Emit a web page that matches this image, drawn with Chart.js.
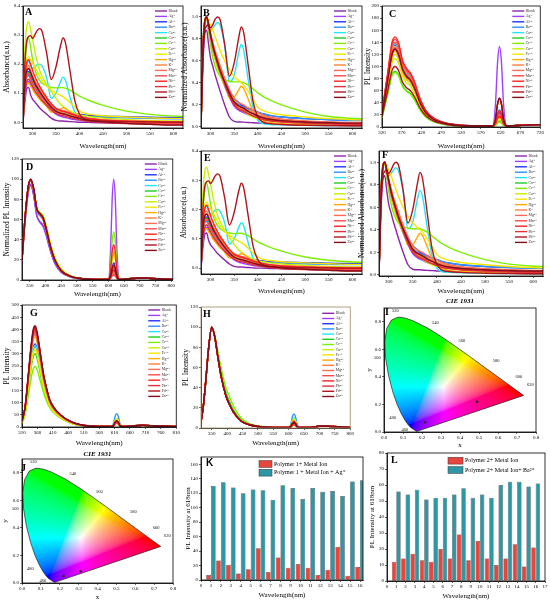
<!DOCTYPE html>
<html><head><meta charset="utf-8">
<script src="https://cdn.jsdelivr.net/npm/chart.js@4.4.1/dist/chart.umd.min.js"></script>
<style>
html,body{margin:0;padding:0;background:#fff;}
#wrap{position:relative;width:550px;height:603px;overflow:hidden;background:#fff;}
canvas{position:absolute;}
</style></head><body><div id="wrap"></div>
<script>
// ---------------- DATA ----------------
const ions = ['Blank','Ag⁺','Al³⁺','Ba²⁺','Ca²⁺','Co²⁺','Cr³⁺','Cu²⁺','Fe³⁺','Hg²⁺','K⁺','Mg²⁺','Mn²⁺','Ni²⁺','Pb²⁺','Pd²⁺','Zn²⁺'];
const ionColors = ['#8E24AA','#A040FF','#2233FF','#2F8FFF','#22E5F5','#1ED01E','#7CF000','#C6F000','#F2E600','#FFAA00','#FF7F3F','#FF6A55','#FF4848','#FF2020','#E0303A','#B0141E','#82101A'];

// Absorbance (panels A and E)
const absX = [280,284,288,292,296,300,305,310,315,320,330,340,350,360,365,370,380,390,400,410,425,450,500,550,600,620];
const absRows = [
 [0,0.07,0.115,0.12,0.095,0.08,0.07,0.06,0.05,0.042,0.028,0.014,0.006,0.004,0.004,0.003,0.002,0.001,0,0,-0.001,-0.002,-0.004,-0.005,-0.006,-0.006],
 [0,0.09,0.13,0.14,0.13,0.12,0.105,0.095,0.085,0.075,0.058,0.042,0.028,0.02,0.018,0.016,0.012,0.009,0.007,0.005,0.003,0.001,-0.002,-0.004,-0.006,-0.006],
 [0,0.12,0.17,0.175,0.16,0.145,0.13,0.118,0.105,0.095,0.075,0.058,0.045,0.038,0.036,0.034,0.031,0.029,0.027,0.025,0.023,0.021,0.019,0.017,0.016,0.016],
 [0,0.11,0.155,0.16,0.148,0.135,0.12,0.108,0.095,0.085,0.067,0.05,0.038,0.032,0.03,0.029,0.026,0.024,0.022,0.021,0.019,0.017,0.015,0.013,0.012,0.012],
 [0,0.14,0.2,0.21,0.195,0.185,0.19,0.197,0.2,0.195,0.155,0.082,0.1,0.14,0.155,0.145,0.085,0.035,0.012,0.006,0.004,0.003,0.001,0,-0.001,-0.001],
 [0,0.12,0.165,0.17,0.155,0.14,0.123,0.11,0.098,0.088,0.068,0.05,0.036,0.03,0.028,0.026,0.022,0.019,0.016,0.013,0.01,0.007,0.004,0.002,0.001,0.001],
 [0,0.19,0.27,0.29,0.26,0.22,0.185,0.16,0.145,0.135,0.125,0.12,0.118,0.119,0.119,0.117,0.11,0.1,0.09,0.082,0.072,0.058,0.038,0.027,0.021,0.02],
 [0,0.25,0.33,0.345,0.32,0.29,0.245,0.21,0.18,0.16,0.13,0.105,0.082,0.062,0.055,0.048,0.038,0.031,0.026,0.022,0.018,0.014,0.009,0.006,0.004,0.004],
 [0,0.16,0.22,0.225,0.215,0.205,0.19,0.175,0.16,0.145,0.125,0.112,0.1,0.092,0.088,0.082,0.068,0.052,0.038,0.031,0.026,0.022,0.018,0.015,0.013,0.013],
 [0,0.1,0.135,0.135,0.125,0.115,0.1,0.09,0.08,0.07,0.055,0.035,0.035,0.045,0.05,0.047,0.035,0.02,0.012,0.008,0.005,0.003,0.001,0,-0.001,-0.001],
 [0,0.14,0.19,0.195,0.18,0.16,0.14,0.125,0.11,0.098,0.076,0.056,0.042,0.036,0.034,0.032,0.027,0.022,0.018,0.014,0.011,0.008,0.005,0.003,0.002,0.002],
 [0,0.135,0.18,0.185,0.172,0.158,0.142,0.128,0.115,0.104,0.082,0.062,0.048,0.042,0.04,0.038,0.032,0.026,0.021,0.016,0.012,0.008,0.004,0.002,0,0],
 [0,0.12,0.16,0.165,0.152,0.138,0.122,0.108,0.096,0.085,0.066,0.048,0.035,0.029,0.027,0.025,0.02,0.016,0.012,0.008,0.005,0.002,-0.002,-0.004,-0.005,-0.005],
 [0,0.15,0.205,0.215,0.2,0.18,0.158,0.14,0.124,0.11,0.086,0.064,0.048,0.04,0.038,0.036,0.03,0.024,0.019,0.015,0.011,0.007,0.003,0.001,0,0],
 [0,0.1,0.14,0.148,0.138,0.125,0.11,0.098,0.086,0.076,0.058,0.042,0.03,0.024,0.022,0.02,0.016,0.012,0.008,0.005,0.002,-0.001,-0.005,-0.007,-0.009,-0.009],
 [0,0.2,0.28,0.295,0.298,0.288,0.3,0.315,0.322,0.315,0.24,0.147,0.19,0.265,0.29,0.275,0.175,0.075,0.028,0.012,0.006,0.004,0.002,0.001,0,0],
 [0,0.13,0.178,0.185,0.172,0.155,0.135,0.12,0.106,0.094,0.072,0.052,0.038,0.031,0.029,0.027,0.022,0.017,0.013,0.009,0.005,0.001,-0.004,-0.007,-0.01,-0.01]
];
// Normalized absorbance (panels B and F)
const nabsRows = [
 [0,0.55,0.85,0.88,0.75,0.63,0.55,0.47,0.4,0.33,0.2,0.09,0.05,0.045,0.045,0.043,0.04,0.038,0.035,0.032,0.028,0.023,0.017,0.013,0.01,0.01],
 [0,0.65,0.93,1.0,0.9,0.8,0.7,0.62,0.55,0.48,0.37,0.27,0.19,0.15,0.14,0.13,0.11,0.1,0.09,0.08,0.07,0.06,0.05,0.04,0.035,0.035],
 [0,0.7,0.97,1.0,0.91,0.83,0.74,0.67,0.6,0.54,0.43,0.33,0.26,0.22,0.2,0.19,0.17,0.15,0.135,0.12,0.105,0.09,0.075,0.066,0.06,0.06],
 [0,0.68,0.96,1.0,0.92,0.84,0.75,0.67,0.59,0.53,0.42,0.31,0.24,0.2,0.19,0.18,0.16,0.15,0.135,0.12,0.105,0.09,0.075,0.065,0.058,0.058],
 [0,0.82,0.9,0.91,0.89,0.88,0.9,0.93,0.95,0.93,0.74,0.41,0.47,0.68,0.75,0.7,0.42,0.17,0.06,0.03,0.022,0.018,0.014,0.012,0.01,0.01],
 [0,0.68,0.95,1.0,0.9,0.81,0.71,0.63,0.56,0.5,0.39,0.29,0.21,0.18,0.17,0.16,0.14,0.125,0.11,0.095,0.08,0.065,0.05,0.04,0.035,0.035],
 [0,0.7,0.95,0.98,0.88,0.75,0.63,0.55,0.5,0.46,0.43,0.415,0.41,0.41,0.41,0.4,0.38,0.345,0.31,0.28,0.245,0.2,0.135,0.095,0.077,0.075],
 [0,0.72,0.97,1.0,0.94,0.85,0.72,0.61,0.53,0.47,0.38,0.3,0.24,0.18,0.16,0.14,0.11,0.09,0.075,0.065,0.055,0.045,0.032,0.024,0.018,0.018],
 [0,0.7,0.97,1.0,0.97,0.93,0.88,0.82,0.76,0.7,0.6,0.52,0.46,0.42,0.4,0.38,0.32,0.25,0.18,0.15,0.13,0.11,0.09,0.075,0.065,0.063],
 [0,0.7,0.96,1.0,0.92,0.83,0.74,0.68,0.63,0.56,0.43,0.26,0.27,0.34,0.37,0.35,0.25,0.14,0.08,0.055,0.04,0.03,0.02,0.015,0.012,0.012],
 [0,0.7,0.97,1.0,0.92,0.82,0.72,0.64,0.56,0.5,0.39,0.29,0.22,0.19,0.18,0.17,0.15,0.13,0.11,0.095,0.08,0.065,0.05,0.042,0.038,0.038],
 [0,0.7,0.96,1.0,0.93,0.85,0.77,0.69,0.62,0.56,0.44,0.34,0.26,0.22,0.21,0.2,0.17,0.15,0.13,0.11,0.09,0.072,0.055,0.045,0.04,0.04],
 [0,0.68,0.95,1.0,0.92,0.83,0.73,0.65,0.58,0.51,0.4,0.29,0.21,0.17,0.16,0.15,0.12,0.1,0.085,0.07,0.055,0.045,0.035,0.028,0.025,0.025],
 [0,0.7,0.96,1.0,0.93,0.84,0.74,0.65,0.58,0.51,0.4,0.3,0.22,0.19,0.18,0.17,0.14,0.12,0.1,0.085,0.07,0.055,0.04,0.032,0.028,0.028],
 [0,0.68,0.95,1.0,0.93,0.85,0.74,0.66,0.58,0.51,0.39,0.28,0.2,0.16,0.15,0.14,0.12,0.1,0.085,0.07,0.058,0.046,0.035,0.028,0.024,0.024],
 [0,0.62,0.87,0.92,0.93,0.9,0.93,0.98,1.0,0.98,0.75,0.46,0.58,0.82,0.91,0.86,0.55,0.23,0.09,0.045,0.03,0.022,0.015,0.012,0.01,0.01],
 [0,0.7,0.96,1.0,0.93,0.84,0.74,0.66,0.59,0.52,0.41,0.31,0.23,0.19,0.18,0.17,0.14,0.12,0.1,0.085,0.07,0.057,0.045,0.038,0.034,0.034]
];
// PL intensity (panel C)
const plcX = [320,335,345,353,362,372,382,392,402,415,430,450,480,520,560,600,607,612,617,622,627,635,660,700,720];
const plcRows = [
 [23,84,126,135,126,100,88,81,68,45,26,13.5,6,2.7,2,2,6.6,17.6,22,17.6,6.6,2,2.5,3.5,4],
 [20,74,112,120,112,89,78,72,60,40,23,12,5.4,2.4,2,2,40,106,133,106,40,2,2.5,3.5,4],
 [24,87,130,140,130,104,91,84,70,46,27,14,6.3,2.8,2,2,7.5,20,25,20,7.5,2,2.5,3.5,4],
 [23,86,128,138,128,102,90,83,69,46,26,14,6.2,2.8,2,2,8.4,22,28,22,8.4,2,2.5,3.5,4],
 [23,85,127,137,127,101,89,82,68,45,26,14,6.2,2.7,2,2,6,16,20,16,6,2,2.5,3.5,4],
 [16,57,86,92,86,68,60,55,46,30,17.5,9.2,4.1,1.8,2,2,3,8,10,8,3,2,2.5,3.5,4],
 [15,56,84,90,84,67,59,54,45,30,17,9,4,1.8,2,2,2.4,6.4,8,6.4,2.4,2,2.5,3.5,4],
 [19,70,105,113,105,84,73,68,56,37,21,11.3,5,2.3,2,2,3.6,9.6,12,9.6,3.6,2,2.5,3.5,4],
 [20,74,112,120,112,89,78,72,60,40,23,12,5.4,2.4,2,2,4.5,12,15,12,4.5,2,2.5,3.5,4],
 [21,78,116,125,116,92,81,75,62,41,24,12.5,5.6,2.5,2,2,13.5,36,45,36,13.5,2,2.5,3.5,4],
 [22,82,123,132,123,98,86,79,66,44,25,13,6,2.6,2,2,5.4,14.4,18,14.4,5.4,2,2.5,3.5,4],
 [24,87,130,140,130,104,91,84,70,46,27,14,6.3,2.8,2,2,6,16,20,16,6,2,2.5,3.5,4],
 [25,90,135,145,135,107,94,87,72,48,28,14.5,6.5,2.9,2,2,6.6,17.6,22,17.6,6.6,2,2.5,3.5,4],
 [25,92,139,149,139,110,97,89,75,49,28,15,6.7,3,2,2,5.1,13.6,17,13.6,5.1,2,2.5,3.5,4],
 [22,81,121,130,121,96,85,78,65,43,25,13,5.9,2.6,2,2,8.1,21.6,27,21.6,8.1,2,2.5,3.5,4],
 [17,62,93,100,93,74,65,60,50,33,19,10,4.5,2,2,2,14,37.6,47,37.6,14,2,2.5,3.5,4],
 [22,79,119,128,119,95,83,77,64,42,24,12.8,5.8,2.6,2,2,14.4,38.4,48,38.4,14.4,2,2.5,3.5,4]
];
// Normalized PL (panel D)
const pldX = [325,335,345,353,362,372,382,392,402,415,430,450,480,520,560,600,607,612,617,622,627,635,660,700,740,805];
const pldRows = [
 [19,58,87,94,84,64,58,54,45,30,17,8,3,1,0.5,0.5,1.8,4.8,6,4.8,1.8,0.5,1,2,1.5,0.5],
 [19,59,88,95,85,64,57,53,44,29,16,7.5,3,1,0.5,0.5,30,80,100,80,30,0.5,1,2,1.5,0.5],
 [20,62,92,99,89,69,64,60,49,32,18.5,8.7,3.3,1.1,0.5,0.5,5.1,13.6,17,13.6,5.1,0.5,1,2,1.5,0.5],
 [20,62,92,99,89,69,64,60,49,32,18.5,8.7,3.3,1.1,0.5,0.5,3.6,9.6,12,9.6,3.6,0.5,1,2,1.5,0.5],
 [20,62,92,99,89,69,64,60,49,32,18.5,8.7,3.3,1.1,0.5,0.5,4.2,11.2,14,11.2,4.2,0.5,1,2,1.5,0.5],
 [20,62,92,99,90,71,66,62,51,34,20,9.5,3.6,1.2,0.5,0.5,2.4,6.4,8,6.4,2.4,0.5,1,2,1.5,0.5],
 [20,62,92,99,90,72,67,64,54,37,22,11,4.2,1.4,0.6,0.5,14.4,38.4,48,38.4,14.4,0.5,1,2,1.5,0.5],
 [20,62,92,99,90,71,66,63,53,36,21,10.5,4,1.3,0.5,0.5,3,8,10,8,3,0.5,1,2,1.5,0.5],
 [20,62,92,99,90,71,66,62,52,35,20,10,3.8,1.3,0.5,0.5,7.5,20,25,20,7.5,0.5,1,2,1.5,0.5],
 [20,62,92,99,90,70,65,61,50,33,19,9,3.5,1.2,0.5,0.5,8.4,22.4,28,22.4,8.4,0.5,1,2,1.5,0.5],
 [20,62,92,99,90,70,65,61,50,33,19,9,3.5,1.2,0.5,0.5,2.1,5.6,7,5.6,2.1,0.5,1,2,1.5,0.5],
 [20,62,92,99,90,70,65,61,50,33,19,9,3.5,1.2,0.5,0.5,2.7,7.2,9,7.2,2.7,0.5,1,2,1.5,0.5],
 [20,62,92,99,90,70,65,61,50,33,19,9,3.5,1.2,0.5,0.5,1.5,4,5,4,1.5,0.5,1,2,1.5,0.5],
 [20,62,92,99,90,70,65,61,50,33,19,9,3.5,1.2,0.5,0.5,10.5,28,35,28,10.5,0.5,1,2,1.5,0.5],
 [20,62,92,99,90,70,65,61,50,33,19,9,3.5,1.2,0.5,0.5,3.9,10.4,13,10.4,3.9,0.5,1,2,1.5,0.5],
 [20,63,93,100,91,71,66,62,51,34,19.5,9.2,3.6,1.2,0.5,0.5,3,8,10,8,3,0.5,1,2,1.5,0.5],
 [20,63,93,100,91,71,66,62,51,34,19.5,9.2,3.6,1.2,0.5,0.5,4.5,12,15,12,4.5,0.5,1,2,1.5,0.5]
];
// PL intensity (panel G)
const plgX = [310,320,330,340,347,353,360,370,380,390,400,410,425,450,475,500,530,570,600,607,612,617,622,627,635,660,700,740,780,810];
const plgRows = [
 [24,79,198,324,383,395,363,284,205,150,107,83,59,34,18,8.7,4,2.4,2,5.4,14.4,18,14.4,5.4,2,3,7,5,3,2],
 [23,76,190,312,369,380,350,274,198,144,103,80,57,32,17,8.4,3.8,2.3,2,6.6,17.6,22,17.6,6.6,2,3,7,5,3,2],
 [20,68,170,279,330,340,313,245,177,129,92,71,51,29,15,7.5,3.4,2,2,7.5,20,25,20,7.5,2,3,7,5,3,2],
 [20,66,165,271,320,330,304,238,172,125,89,69,50,28,15,7.3,3.3,2,2,16.5,44,55,44,16.5,2,3,7,5,3,2],
 [20,67,168,275,325,335,308,241,174,127,90,70,50,28,15,7.4,3.4,2,2,9,24,30,24,9,2,3,7,5,3,2],
 [18,60,150,246,291,300,276,216,156,114,81,63,45,26,13.5,6.6,3,1.8,2,6,16,20,16,6,2,3,7,5,3,2],
 [15,50,124,203,241,248,230,185,140,105,80,64,46,26,13,6.5,3,1.8,2,4.5,12,15,12,4.5,2,3,7,5,3,2],
 [19,63,158,258,306,315,290,227,164,120,85,66,47,27,14,7,3.2,1.9,2,10.5,28,35,28,10.5,2,3,7,5,3,2],
 [19,64,160,262,310,320,294,230,166,122,86,67,48,27,14.4,7,3.2,1.9,2,9,24,30,24,9,2,3,7,5,3,2],
 [22,74,185,303,359,370,340,266,192,141,100,78,56,31,17,8.1,3.7,2.2,2,6,16,20,16,6,2,3,7,5,3,2],
 [23,77,193,316,373,385,354,277,200,146,104,81,58,33,17,8.5,3.9,2.3,2,5.4,14.4,18,14.4,5.4,2,3,7,5,3,2],
 [23,78,195,320,378,390,359,281,203,148,105,82,59,33,18,8.6,3.9,2.3,2,4.5,12,15,12,4.5,2,3,7,5,3,2],
 [24,80,200,328,388,400,368,288,208,152,108,84,60,34,18,8.8,4,2.4,2,5.4,14.4,18,14.4,5.4,2,3,7,5,3,2],
 [24,81,203,332,393,405,373,292,211,154,109,85,61,34,18,8.9,4,2.4,2,6.6,17.6,22,17.6,6.6,2,3,7,5,3,2],
 [24,79,198,324,383,395,363,284,205,150,107,83,59,34,18,8.7,4,2.4,2,6,16,20,16,6,2,3,7,5,3,2],
 [25,82,205,336,398,410,377,295,213,156,111,86,62,35,18,9,4.1,2.5,2,7.5,20,25,20,7.5,2,3,7,5,3,2],
 [25,83,208,340,403,415,382,299,216,158,112,87,62,35,19,9.1,4.2,2.5,2,7.8,20.8,26,20.8,7.8,2,3,7,5,3,2]
];
// Normalized PL (panel H)
const plhX = [315,322,330,340,350,360,370,380,395,405,420,445,470,500,550,600,607,612,617,622,627,635,670,705,740,770,800];
const plhRows = [
 [6,20,45,80,100,90,70,52,33,25,16,7,3.5,1.5,0.6,0.5,1.2,3.2,4,3.2,1.2,0.5,0.5,2,1.5,1,0.5],
 [6,20,45,80,100,90,70,52,33,25,16,7,3.5,1.5,0.6,0.5,1.5,4,5,4,1.5,0.5,0.5,2,1.5,1,0.5],
 [6,20,45,80,100,90,70,52,33,25,16,7,3.5,1.5,0.6,0.5,2.4,6.4,8,6.4,2.4,0.5,0.5,2,1.5,1,0.5],
 [6,20,45,80,100,90,70,52,33,25,16,7,3.5,1.5,0.6,0.5,4.2,11.2,14,11.2,4.2,0.5,0.5,2,1.5,1,0.5],
 [6,20,45,80,100,90,70,52,33,25,16,7,3.5,1.5,0.6,0.5,3,8,10,8,3,0.5,0.5,2,1.5,1,0.5],
 [6,20,45,80,100,91,72,55,36,28,18,8,4,1.7,0.7,0.5,0.9,2.4,3,2.4,0.9,0.5,0.5,2,1.5,1,0.5],
 [6,20,45,80,100,92,76,60,41,33,22,10,4.5,2,0.8,0.5,0.9,2.4,3,2.4,0.9,0.5,0.5,2,1.5,1,0.5],
 [6,20,45,80,100,90,70,52,33,25,16,7,3.5,1.5,0.6,0.5,1.8,4.8,6,4.8,1.8,0.5,0.5,2,1.5,1,0.5],
 [6,20,45,80,100,90,70,52,33,25,16,7,3.5,1.5,0.6,0.5,2.7,7.2,9,7.2,2.7,0.5,0.5,2,1.5,1,0.5],
 [6,20,45,80,100,90,70,52,33,25,16,7,3.5,1.5,0.6,0.5,2.1,5.6,7,5.6,2.1,0.5,0.5,2,1.5,1,0.5],
 [6,20,45,80,100,90,70,52,33,25,16,7,3.5,1.5,0.6,0.5,1.2,3.2,4,3.2,1.2,0.5,0.5,2,1.5,1,0.5],
 [6,20,45,80,100,90,70,52,33,25,16,7,3.5,1.5,0.6,0.5,1.2,3.2,4,3.2,1.2,0.5,0.5,2,1.5,1,0.5],
 [6,20,45,80,100,90,70,52,33,25,16,7,3.5,1.5,0.6,0.5,0.9,2.4,3,2.4,0.9,0.5,0.5,2,1.5,1,0.5],
 [6,20,45,80,100,90,70,52,33,25,16,7,3.5,1.5,0.6,0.5,1.8,4.8,6,4.8,1.8,0.5,0.5,2,1.5,1,0.5],
 [6,20,45,80,100,90,70,52,33,25,16,7,3.5,1.5,0.6,0.5,1.5,4,5,4,1.5,0.5,0.5,2,1.5,1,0.5],
 [6,20,45,80,100,90,70,52,33,25,16,7,3.5,1.5,0.6,0.5,1.8,4.8,6,4.8,1.8,0.5,0.5,2,1.5,1,0.5],
 [6,20,45,80,100,90,70,52,33,25,16,7,3.5,1.5,0.6,0.5,1.5,4,5,4,1.5,0.5,0.5,2,1.5,1,0.5]
];
// CIE 1931 spectral locus (closed with the purple line)
const cieLocX = [0.1741,0.1714,0.1644,0.1566,0.1440,0.1355,0.1241,0.1096,0.0913,0.0687,0.0454,0.0235,0.0082,0.0039,0.0139,0.0389,0.0743,0.1142,0.1547,0.2296,0.3016,0.3731,0.4441,0.5125,0.5752,0.6270,0.6658,0.6915,0.7190,0.7300,0.7347,0.1741];
const cieLocY = [0.0050,0.0051,0.0109,0.0177,0.0297,0.0399,0.0578,0.0868,0.1327,0.2007,0.2950,0.4127,0.5384,0.6548,0.7502,0.8120,0.8338,0.8262,0.8059,0.7543,0.6923,0.6245,0.5547,0.4866,0.4242,0.3725,0.3340,0.3083,0.2809,0.2700,0.2653,0.0050];
const cieLabText = ['520','540','560','580','600','620','500','480','460'];
const cieLabX = [0.06,0.27,0.41,0.59,0.71,0.77,-0.035,0.045,0.11];
const cieLabY = [0.88,0.79,0.66,0.52,0.40,0.34,0.535,0.10,0.015];
const cieIPointsX = [0.49,0.216], cieIPointsY = [0.22,0.071];
const cieJPointsX = [0.22,0.31], cieJPointsY = [0.05,0.085];
// Bar panels K and L
const barPos = [1,2,3,4,5,6,7,8,9,10,11,12,13,14,15,16];
const kIon  = [7,27,21,9,15,44,11,31,17,22,17,7,14,46,6,18];
const kIonAg = [130,135,128,120,125,124,111,131,127,112,127,122,123,116,136,138];
const lIon  = [12,14,17,13,12,20,14,29,13,25,14,10,14,23,9,21];
const lIonBa = [56,54,57,51,52,52,54,58,52,54,52,60,62,62,59,61];

// ---------------- RENDER ----------------
const SERIF = "'Liberation Serif','Times New Roman','DejaVu Serif',serif";
const SANS = "'Liberation Sans',Arial,sans-serif";
Chart.defaults.font.family = SERIF;
Chart.defaults.color = '#000';
const wrap = document.getElementById('wrap');

function srgb(c){ c = Math.max(0, Math.min(1, c)); return c <= 0.0031308 ? 12.92*c : 1.055*Math.pow(c, 1/2.4) - 0.055; }
function paintCie(chart){
  const {ctx, chartArea:ca, scales:{x, y}} = chart;
  const w = Math.ceil(ca.right - ca.left), h = Math.ceil(ca.bottom - ca.top);
  const off = document.createElement('canvas'); off.width = w; off.height = h;
  const octx = off.getContext('2d'); const img = octx.createImageData(w, h);
  for (let j = 0; j < h; j++) {
    let cy = y.getValueForPixel(ca.top + j + 0.5); if (cy < 0.003) cy = 0.003;
    for (let i = 0; i < w; i++) {
      const cx = x.getValueForPixel(ca.left + i + 0.5);
      const X = cx/cy, Z = (1 - cx - cy)/cy;
      let r = 3.2406*X - 1.5372 - 0.4986*Z, g = -0.9689*X + 1.8758 + 0.0415*Z, b = 0.0557*X - 0.2040 + 1.0570*Z;
      r = Math.max(0, r); g = Math.max(0, g); b = Math.max(0, b);
      const m = Math.max(r, g, b) || 1;
      const k = (j*w + i)*4;
      img.data[k] = 255*srgb(r/m); img.data[k+1] = 255*srgb(g/m); img.data[k+2] = 255*srgb(b/m); img.data[k+3] = 255;
    }
  }
  octx.putImageData(img, 0, 0);
  ctx.save(); ctx.beginPath();
  cieLocX.forEach((vx, k) => { const px = x.getPixelForValue(vx), py = y.getPixelForValue(cieLocY[k]); k ? ctx.lineTo(px, py) : ctx.moveTo(px, py); });
  ctx.closePath(); ctx.clip(); ctx.drawImage(off, ca.left, ca.top, w, h); ctx.restore();
}

function makeDecor(o){
  return {
    id: 'decor',
    beforeDatasetsDraw(chart){ if (o.cie) paintCie(chart); },
    afterDatasetsDraw(chart){
      const {ctx, chartArea:ca} = chart;
      ctx.save();
      ctx.textBaseline = 'middle'; ctx.textAlign = 'left';
      if (o.lineLegend) {
        ctx.font = `3.8px ${SERIF}`;
        chart.data.datasets.forEach((ds, i) => {
          const yy = ca.top + o.legTop + i*o.legStep;
          ctx.strokeStyle = ds.borderColor; ctx.lineWidth = 1.4;
          ctx.beginPath(); ctx.moveTo(ca.right - 28, yy); ctx.lineTo(ca.right - 16, yy); ctx.stroke();
          ctx.fillStyle = '#333'; ctx.fillText(ds.label, ca.right - 14.5, yy);
        });
      }
      if (o.boxLegend) {
        ctx.font = `6px ${SERIF}`;
        chart.data.datasets.forEach((ds, i) => {
          const yy = ca.top + o.legRows[i];
          ctx.fillStyle = ds.backgroundColor; ctx.fillRect(ca.left + o.legBoxX, yy - 3.4, o.legBoxW, 6.8);
          ctx.strokeStyle = '#333'; ctx.lineWidth = 0.5; ctx.strokeRect(ca.left + o.legBoxX, yy - 3.4, o.legBoxW, 6.8);
          ctx.fillStyle = '#000'; ctx.fillText(ds.label, ca.left + o.legTextX, yy);
        });
      }
      if (o.cie) {
        const sx = chart.scales.x, sy = chart.scales.y;
        ctx.font = `4.5px ${SERIF}`; ctx.fillStyle = '#111'; ctx.textAlign = 'center';
        cieLabText.forEach((t, k) => ctx.fillText(t, sx.getPixelForValue(cieLabX[k]), sy.getPixelForValue(cieLabY[k])));
        ctx.font = `bold italic 7px ${SERIF}`; ctx.fillStyle = '#000';
        ctx.fillText('CIE 1931', (ca.left + ca.right)/2, ca.top - o.titleOff);
        ctx.textAlign = 'left';
      }
      ctx.strokeStyle = o.frame || '#000'; ctx.lineWidth = 0.8;
      ctx.strokeRect(ca.left, ca.top, ca.right - ca.left, ca.bottom - ca.top);
      ctx.fillStyle = '#000'; ctx.font = `bold 10px ${o.letterFont || SERIF}`;
      ctx.fillText(o.letter, ca.left + o.lp[0], ca.top + o.lp[1]);
      ctx.restore();
    }
  };
}

function axis(min, max, step, title, digits, tsize){
  return {
    type: 'linear', min, max, offset: false,
    grid: {display: true, drawOnChartArea: false, drawTicks: true, tickLength: 2, color: '#000', lineWidth: 0.6, offset: false},
    border: {display: true, color: '#000', width: 0.8},
    ticks: {stepSize: step, includeBounds: false, autoSkip: false, maxRotation: 0, minRotation: 0, padding: 1,
            font: {size: 5, family: SERIF}, color: '#000', callback: v => Number(v).toFixed(digits)},
    title: {display: !!title, text: title, font: {size: tsize || 7, family: SERIF}, color: '#000', padding: {top: 0, bottom: 1}}
  };
}

function build(p){
  const [l, t, r, b] = p.box;
  const padT = p.padT ?? 4, padR = p.padR ?? 3;
  const w = Math.round(r - l + p.yW + padR), h = Math.round(b - t + padT + p.xH);
  const c = document.createElement('canvas');
  c.width = w; c.height = h;
  c.style.left = (l - p.yW) + 'px'; c.style.top = (t - padT) + 'px';
  c.style.width = w + 'px'; c.style.height = h + 'px';
  wrap.appendChild(c);
  p.x.afterFit = s => { s.height = p.xH; };
  p.y.afterFit = s => { s.width = p.yW; };
  return new Chart(c, {
    type: p.type || 'line',
    data: {datasets: p.datasets},
    options: {
      responsive: false, animation: false,
      layout: {padding: {left: 0, right: padR, top: padT, bottom: 0}},
      plugins: {legend: {display: false}, tooltip: {enabled: false}},
      scales: {x: p.x, y: p.y}
    },
    plugins: [makeDecor(p.decor)]
  });
}

function lineSets(xs, rows){
  return ions.map((name, i) => ({
    label: name, data: xs.map((xv, k) => ({x: xv, y: rows[i][k]})),
    borderColor: ionColors[i], backgroundColor: ionColors[i], borderWidth: 1.4,
    pointRadius: 0, cubicInterpolationMode: 'monotone', fill: false, order: 16 - i
  }));
}
function cieSets(px, py){
  return [
    {data: cieLocX.map((v, k) => ({x: v, y: cieLocY[k]})), showLine: true, borderColor: '#222', borderWidth: 0.7, pointRadius: 0, fill: false},
    {data: px.map((v, k) => ({x: v, y: py[k]})), pointRadius: 1.3, backgroundColor: '#222', borderWidth: 0}
  ];
}
function barSets(lbl1, v1, lbl2, v2){
  const common = {borderColor: '#3a2020', borderWidth: 0.5, categoryPercentage: 0.95, barPercentage: 1};
  return [
    Object.assign({label: lbl1, data: barPos.map((xv, i) => ({x: xv, y: v1[i]})), backgroundColor: '#E8453C'}, common),
    Object.assign({label: lbl2, data: barPos.map((xv, i) => ({x: xv, y: v2[i]})), backgroundColor: '#2E97A6'}, common)
  ];
}
const WL = 'Wavelength(nm)';
const lineLeg = {lineLegend: true, legTop: 5, legStep: 5.4};

// Row 1
build({box: [23, 6, 183, 128], yW: 20, xH: 23, datasets: lineSets(absX, absRows),
  x: axis(280, 620, 50, WL, 0), y: axis(-0.02, 0.4, 0.1, 'Absorbance(a.u.)', 1, 7.5),
  decor: Object.assign({letter: 'A', lp: [2, 6]}, lineLeg)});
build({box: [201, 6, 362, 128], yW: 20, xH: 23, datasets: lineSets(absX, nabsRows),
  x: axis(280, 620, 50, WL, 0), y: axis(-0.01, 1.1, 0.2, 'Normalized Absorbance(a.u.)', 1, 7.5),
  decor: Object.assign({letter: 'B', lp: [2, 7]}, lineLeg)});
build({box: [382, 6, 542, 127], yW: 18, xH: 24, datasets: lineSets(plcX, plcRows),
  x: axis(320, 720, 50, WL, 0), y: axis(0, 200, 20, 'PL Intensity', 0, 7.5),
  decor: Object.assign({letter: 'C', lp: [7, 8]}, lineLeg)});
// Row 2
build({box: [22, 159, 173, 280], yW: 19, xH: 19, datasets: lineSets(pldX, pldRows),
  x: axis(325, 805, 50, WL, 0), y: axis(0, 120, 20, 'Normalized PL Intensity', 0, 7.5),
  decor: Object.assign({letter: 'D', lp: [4, 8]}, lineLeg)});
build({box: [201, 151, 362, 274], yW: 21, xH: 22, datasets: lineSets(absX, absRows),
  x: axis(280, 620, 50, WL, 0), y: axis(-0.02, 0.4, 0.1, 'Absorbance(a.u.)', 1, 7.5),
  decor: Object.assign({letter: 'E', lp: [3, 7]}, lineLeg)});
build({box: [379, 151, 543, 276], yW: 21, xH: 20, datasets: lineSets(absX, nabsRows),
  x: axis(280, 620, 50, WL, 0), y: axis(-0.01, 1.1, 0.2, 'Normalized Absorbance(a.u.)', 1, 7.5),
  decor: Object.assign({letter: 'F', lp: [3, 4.5]}, lineLeg)});
// Row 3
build({box: [22, 305, 178, 427], yW: 19, xH: 21, datasets: lineSets(plgX, plgRows),
  x: axis(310, 810, 50, WL, 0), y: axis(0, 500, 50, 'PL Intensity', 0, 7.5),
  decor: Object.assign({letter: 'G', lp: [8, 8]}, lineLeg)});
build({box: [201, 307, 352, 428], yW: 19, xH: 20, datasets: lineSets(plhX, plhRows),
  x: axis(315, 800, 50, WL, 0), y: axis(0, 120, 20, 'PL Intensity', 0, 7.5),
  decor: {letter: 'H', lp: [2, 7], lineLegend: true, legTop: 6.3, legStep: 5.2, frame: '#9C8A62'}});
build({type: 'scatter', box: [384, 308, 536, 432], yW: 19, xH: 18, padT: 12, padR: 6, datasets: cieSets(cieIPointsX, cieIPointsY),
  x: axis(0, 0.8, 0.1, 'x', 1), y: axis(0, 0.9, 0.2, 'y', 1),
  decor: {letter: 'I', lp: [1, 4], cie: true, titleOff: 7}});
// Row 4
build({type: 'scatter', box: [22, 459, 173, 583], yW: 21, xH: 19, padT: 12, padR: 6, datasets: cieSets(cieJPointsX, cieJPointsY),
  x: axis(0, 0.8, 0.1, 'x', 1), y: axis(0, 0.9, 0.2, 'y', 1),
  decor: {letter: 'J', lp: [-1, 9], cie: true, titleOff: 5}});
build({type: 'bar', box: [201, 457, 363, 580], yW: 17, xH: 20, datasets: barSets('Polymer 1+ Metal Ion', kIon, 'Polymer 1 + Metal Ion + Ag⁺', kIonAg),
  x: axis(0, 16.3, 1, WL, 0), y: axis(0, 170, 20, 'PL Intensity at 618nm', 0, 7),
  decor: {letter: 'K', letterFont: SANS, lp: [5, 6], boxLegend: true, legRows: [7, 15.7], legBoxX: 58, legBoxW: 13, legTextX: 73}});
build({type: 'bar', box: [387, 453, 545, 581], yW: 19, xH: 20, padR: 4, datasets: barSets('Polymer 2+ Metal Ion', lIon, 'Polymer 2+ Metal Ion+ Ba²⁺', lIonBa),
  x: axis(0, 17, 1, WL, 0), y: axis(0, 80, 10, 'PL Intensity at 618nm', 0, 7),
  decor: {letter: 'L', lp: [4, 7], boxLegend: true, legRows: [7.7, 17], legBoxX: 61, legBoxW: 15, legTextX: 78}});
</script></body></html>
